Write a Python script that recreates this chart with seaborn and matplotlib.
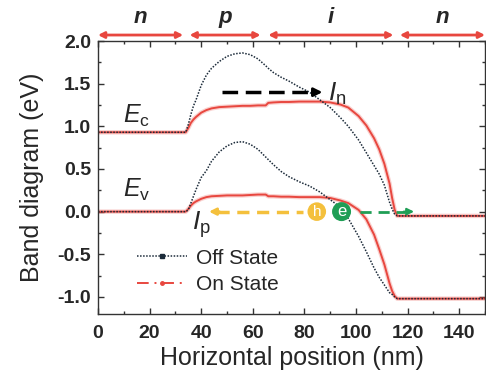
import numpy as np
import pandas as pd
import matplotlib
matplotlib.use("Agg")
import matplotlib.pyplot as plt
import seaborn as sns
from matplotlib.lines import Line2D

# ================= data =================
pos_nm = [0, 34, 35, 36, 37, 38, 40, 42, 44, 47, 50, 53, 56, 59, 62, 65, 66, 68,
          71, 74, 78, 82, 86, 90, 94, 97, 101, 104, 107, 109, 111, 113, 114, 115,
          116, 118, 150]
ec_on = [0.93, 0.93, 0.98, 1.04, 1.08, 1.11, 1.16, 1.19, 1.21, 1.225, 1.23, 1.235,
         1.24, 1.24, 1.245, 1.245, 1.275, 1.28, 1.285, 1.285, 1.29, 1.29, 1.29,
         1.28, 1.255, 1.22, 1.12, 1.01, 0.86, 0.73, 0.56, 0.33, 0.16, 0.02,
         -0.05, -0.05, -0.05]
ec_off = [0.93, 0.93, 1.02, 1.14, 1.24, 1.31, 1.48, 1.60, 1.68, 1.76, 1.82, 1.85,
          1.86, 1.84, 1.79, 1.71, 1.68, 1.63, 1.575, 1.53, 1.46, 1.40, 1.31, 1.22,
          1.10, 1.00, 0.84, 0.69, 0.54, 0.44, 0.31, 0.11, 0.03, -0.03, -0.05,
          -0.05, -0.05]
ev_on = [0.0, 0.0, 0.03, 0.07, 0.10, 0.12, 0.15, 0.17, 0.18, 0.185, 0.19, 0.19,
         0.19, 0.195, 0.20, 0.20, 0.18, 0.18, 0.175, 0.175, 0.17, 0.17, 0.17, 0.16,
         0.13, 0.10, 0.02, -0.09, -0.27, -0.44, -0.62, -0.84, -0.93, -0.99, -1.02,
         -1.02, -1.02]
ev_off = [0.0, 0.0, 0.02, 0.10, 0.18, 0.26, 0.40, 0.48, 0.59, 0.70, 0.77, 0.81,
          0.82, 0.79, 0.73, 0.64, 0.61, 0.55, 0.47, 0.41, 0.35, 0.30, 0.23, 0.14,
          0.05, -0.08, -0.29, -0.47, -0.66, -0.77, -0.86, -0.95, -0.97, -1.00,
          -1.02, -1.02, -1.02]

regions = ["n", "p", "i", "n"]
region_start = [0, 35.5, 66, 117]
region_end = [33, 63, 114.5, 150]
# =================================================================

RED = "#e8473f"
DARK = "#1c2b3a"

sns.set_style("ticks")
plt.rcParams["font.family"] = ["Liberation Sans", "DejaVu Sans"]
plt.rcParams["mathtext.fontset"] = "custom"
plt.rcParams["mathtext.it"] = "Liberation Sans:italic"
plt.rcParams["mathtext.rm"] = "Liberation Sans"
plt.rcParams["axes.unicode_minus"] = False

fig = plt.figure(figsize=(4.86, 3.77), dpi=100)
ax = fig.add_axes([98 / 486, 63 / 377, 387 / 486, 273 / 377])

curves = {"ec_on": ec_on, "ev_on": ev_on, "ec_off": ec_off, "ev_off": ev_off}
for name, vals in curves.items():
    df = pd.DataFrame({"x": pos_nm, "y": vals})
    if name.endswith("_on"):
        # soft halo under the red line, like the scanned original
        sns.lineplot(data=df, x="x", y="y", ax=ax, color=RED, lw=3.2, alpha=0.25,
                     estimator=None, sort=False, legend=False)
        sns.lineplot(data=df, x="x", y="y", ax=ax, color=RED, lw=1.4,
                     estimator=None, sort=False, legend=False)
    else:
        sns.lineplot(data=df, x="x", y="y", ax=ax, color=DARK, lw=1.1,
                     linestyle=(0, (1, 1)), estimator=None, sort=False, legend=False)

ax.set_xlim(0, 150)
ax.set_ylim(-1.2, 2.0)
ax.set_xticks(np.arange(0, 141, 20))
ax.set_xticks(np.arange(0, 151, 10), minor=True)
ax.set_yticks(np.arange(-1.0, 2.01, 0.5))
ax.set_yticks(np.arange(-1.0, 2.01, 0.25), minor=True)
ax.tick_params(which="both", direction="in", top=True, right=True, color="#333333")
ax.tick_params(which="major", length=4, width=1, labelsize=14)
ax.tick_params(which="minor", length=2.5, width=1)
ax.tick_params(axis="x", which="major", pad=8)
ax.tick_params(axis="y", which="major", pad=5)
for lab in ax.get_xticklabels() + ax.get_yticklabels():
    lab.set_fontweight("bold")
for sp in ax.spines.values():
    sp.set_color("#333333")
    sp.set_linewidth(1)

ax.set_xlabel("Horizontal position (nm)", fontsize=18, labelpad=3)
ax.set_ylabel("Band diagram (eV)", fontsize=18, labelpad=10)

# region bar on top
for lab, a, b in zip(regions, region_start, region_end):
    ax.annotate("", xy=(a, 2.07), xytext=(b, 2.07), annotation_clip=False,
                arrowprops=dict(arrowstyle="<|-|>,head_length=0.35,head_width=0.18",
                                color=RED, lw=2, shrinkA=0, shrinkB=0))
    ax.text((a + b) / 2, 2.27, lab, ha="center", va="center", fontsize=16,
            fontweight="bold", style="italic", clip_on=False)

# band labels
ax.text(9.5, 1.12, r"$E_{\rm c}$", fontsize=18, ha="left", va="center")
ax.text(9.5, 0.25, r"$E_{\rm v}$", fontsize=18, ha="left", va="center")

# electron current (black dashed)
ax.plot([48, 84], [1.40, 1.40], color="black", lw=2.5, dashes=(4.5, 2.2))
ax.annotate("", xy=(87, 1.40), xytext=(83, 1.40),
            arrowprops=dict(arrowstyle="-|>,head_length=0.5,head_width=0.25",
                            color="black", lw=2, shrinkA=0, shrinkB=0))
ax.text(89, 1.38, r"$I_{\rm n}$", fontsize=19, ha="left", va="center")

# hole current (yellow) and e/h symbols
YEL = "#f4c03c"
GRN = "#1f9e55"
ax.plot([46, 79.5], [0, 0], color=YEL, lw=2.5, dashes=(3.5, 2.2))
ax.annotate("", xy=(43, 0), xytext=(47, 0),
            arrowprops=dict(arrowstyle="-|>,head_length=0.4,head_width=0.2",
                            color=YEL, lw=2, shrinkA=0, shrinkB=0))
ax.text(36.5, -0.15, r"$I_{\rm p}$", fontsize=19, ha="left", va="center")
ax.plot([101.5, 119], [0, 0], color=GRN, lw=2, dashes=(4, 2.5))
ax.annotate("", xy=(122.5, 0), xytext=(118.5, 0),
            arrowprops=dict(arrowstyle="-|>,head_length=0.4,head_width=0.2",
                            color=GRN, lw=1.5, shrinkA=0, shrinkB=0))
ax.text(84.8, 0.0, "h", fontsize=11, color="white", ha="center", va="center",
        bbox=dict(boxstyle="circle,pad=0.15", fc=YEL, ec="none"))
ax.text(94.4, 0.0, "e", fontsize=12, color="white", ha="center", va="center",
        bbox=dict(boxstyle="circle,pad=0.12", fc=GRN, ec="none"))

handles = [
    Line2D([], [], color=DARK, lw=1.1, linestyle=(0, (1, 1)), marker="s",
           markersize=3, markevery=[1]),
    Line2D([], [], color=RED, lw=1.4, linestyle=(0, (6, 3, 1, 3)), marker="o",
           markersize=2.5, markevery=[1]),
]
ax.legend(handles, ["Off State", "On State"], loc="upper left",
          bbox_to_anchor=(0.08, 0.27), frameon=False, fontsize=15,
          handlelength=2.4, handletextpad=0.4, labelspacing=0.35,
          borderaxespad=0)

fig.savefig("out.png", dpi=100)
